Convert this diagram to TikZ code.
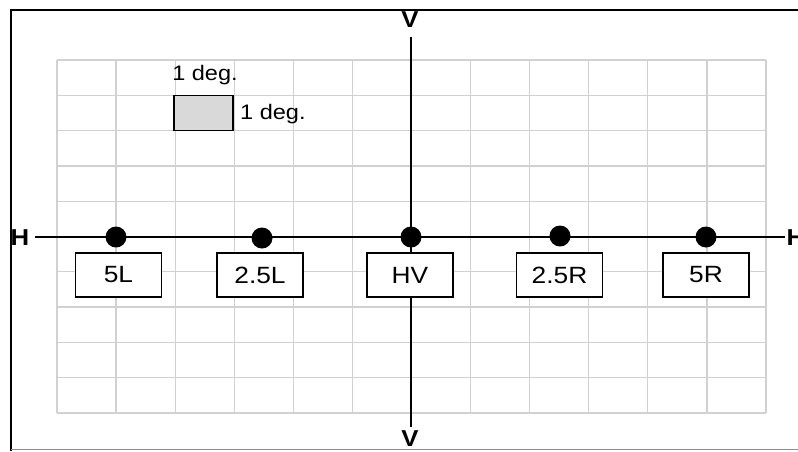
\documentclass[tikz,border=0pt]{standalone}
\usepackage{fontspec}
\setmainfont{Liberation Sans}[FakeStretch=1.12]
\begin{document}
\begin{tikzpicture}[x=1pt,y=-1pt,
  gridline/.style={draw=black!18,line width=1.3pt},
  axis/.style={line width=2.2pt,black},
  dotpt/.style={circle,fill=black,inner sep=0pt,minimum size=21pt},
  lblbox/.style={draw=black,line width=1.4pt,fill=white,minimum width=86pt,minimum height=44pt,inner sep=0pt,font=\fontsize{23.5}{23.5}\selectfont},
  axlbl/.style={inner sep=0pt,font=\fontsize{23}{23}\selectfont\bfseries},
  degtxt/.style={inner sep=0pt,font=\fontsize{21}{21}\selectfont}]
\useasboundingbox (0,0) rectangle (798,451);
\fill[white] (0,0) rectangle (798,451);
% frame
\draw[line width=2pt,black] (11,451) -- (11,9.5) -- (798,9.5);
\draw[line width=1pt,black!45] (11,449.5) -- (798,449.5);
% grid
\foreach \i in {0,...,12} {\draw[gridline] ({57+\i*59.083},60) -- ({57+\i*59.083},413);}
\foreach \j in {0,...,10} {\draw[gridline] (57,{60+\j*35.3}) -- (766,{60+\j*35.3});}
% unit square
\node[draw=black,line width=1.4pt,fill=black!15,minimum width=59pt,minimum height=35.3pt,inner sep=0pt] (unit) at (203.6,113) {};
\node[degtxt] (degtop) at (205,75) {1 deg.};
\node[degtxt,anchor=west] (degright) at (240,114) {1 deg.};
% axes
\coordinate (hL) at (35,237);
\coordinate (hR) at (785,237);
\coordinate (vT) at (411,37);
\coordinate (vB) at (411,427);
\draw[axis] (hL) -- (hR);
\draw[axis] (vT) -- (vB);
\node[axlbl] (Hleft) at (20,238) {H};
\node[axlbl] (Hright) at (796,238) {H};
\node[axlbl] (Vtop) at (410,20) {V};
\node[axlbl] (Vbot) at (410,438.5) {V};
% points
\node[dotpt] (p5L) at (116,237) {};
\node[dotpt] (p25L) at (262,238) {};
\node[dotpt] (pHV) at (411,237) {};
\node[dotpt] (p25R) at (560,236) {};
\node[dotpt] (p5R) at (706,237) {};
% labels
\node[lblbox] (b5L) at (118.5,275) {5L};
\node[lblbox] (b25L) at (260,275) {2.5L};
\node[lblbox] (bHV) at (410,275) {HV};
\node[lblbox] (b25R) at (559.5,275) {2.5R};
\node[lblbox] (b5R) at (706,275) {5R};
\end{tikzpicture}
\end{document}
